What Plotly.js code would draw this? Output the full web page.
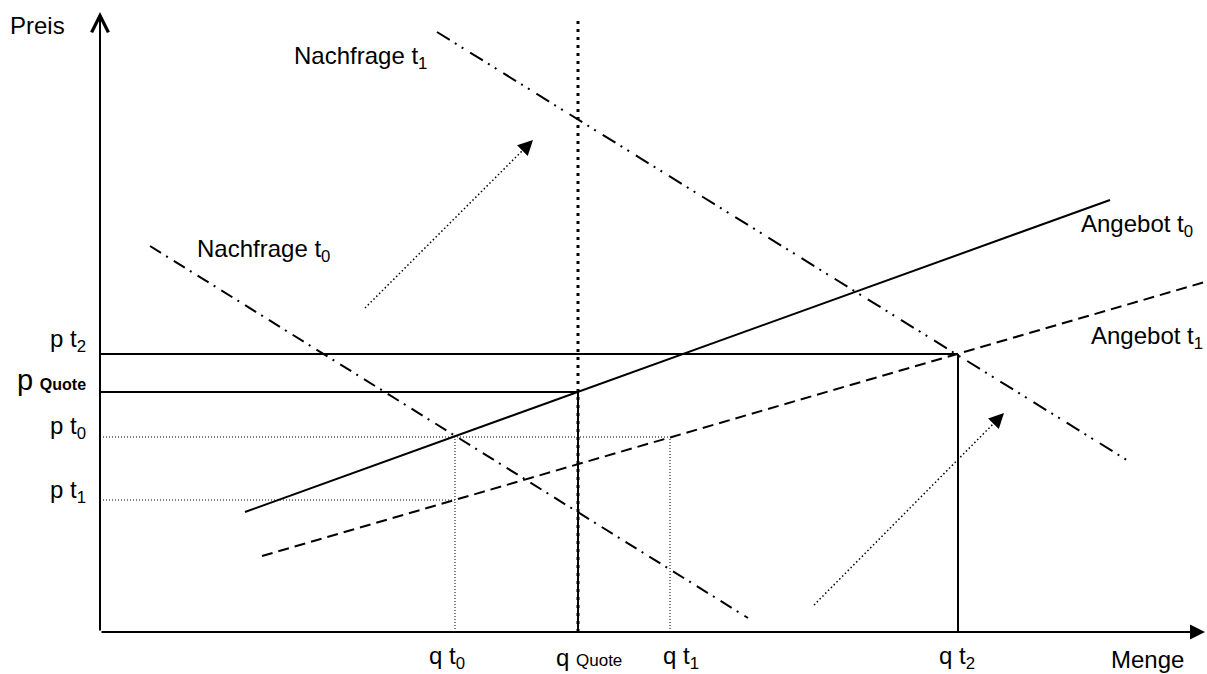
<!DOCTYPE html>
<html>
<head>
<meta charset="utf-8">
<script src="https://cdn.plot.ly/plotly-3.0.1.min.js"></script>
<style>html,body{margin:0;padding:0;background:#fff;}</style>
</head>
<body>
<div id="chart" style="width:1207px;height:674px;"></div>
<script>
// Equilibrium quantities and prices (diagram units, origin at the axes crossing)
const qT0 = 355, qQuote = 478, qT1 = 570, qT2 = 858;
const pT1 = 132, pT0 = 195, pQuote = 240, pT2 = 278;
const quoteTop = 616;

// Curves: endpoints [x0, x1], [y0, y1]
const supply0X = [145, 1010], supply0Y = [120, 432];
const supply1X = [162, 1105], supply1Y = [76, 350];
const demand0X = [50, 648], demand0Y = [386, 14];
const demand1X = [337, 1030], demand1Y = [600, 170];

// Shift arrows: [start, end]
const shiftDemandX = [265, 433], shiftDemandY = [324, 492];
const shiftSupplyX = [714, 904], shiftSupplyY = [27, 219];

// Axis extents
const xAxisEnd = 1105, yAxisEnd = 620;

// Labels
const priceLabels = ['p t<sub>2</sub>', '<span style="font-size:29px">p</span> <span style="font-size:16px"><b>Quote</b></span>', 'p t<sub>0</sub>', 'p t<sub>1</sub>'];
const priceLabelValues = [pT2, pQuote, pT0, pT1];
const priceLabelShift = [14, 12, 10, 9];
const qtyLabels = ['q t<sub>0</sub>', 'q <span style="font-size:17px">Quote</span>', 'q t<sub>1</sub>', 'q t<sub>2</sub>'];
const qtyLabelValues = [qT0, qQuote, qT1, qT2];
const qtyLabelShift = [-8, 11, 11, -1];

const K = '#000';
function seg(x, y, width, dash) {
  return {x: x, y: y, type: 'scatter', mode: 'lines', hoverinfo: 'skip',
          line: {color: K, width: width, dash: dash || 'solid'}, showlegend: false};
}

function arrowPart(xs, ys, back) {
  const dx = xs[1] - xs[0], dy = ys[1] - ys[0];
  const L = Math.sqrt(dx * dx + dy * dy);
  return {bx: xs[1] - dx / L * back, by: ys[1] - dy / L * back};
}
const a1 = arrowPart(shiftDemandX, shiftDemandY, 12);
const a2 = arrowPart(shiftSupplyX, shiftSupplyY, 12);

const traces = [
  // guide lines
  seg([0, qT2], [pT2, pT2], 2),
  seg([qT2, qT2], [0, pT2], 2),
  seg([0, qQuote], [pQuote, pQuote], 2),
  seg([qQuote, qQuote], [0, pQuote], 2),
  seg([0, qT1], [pT0, pT0], 1, '1px,2px'),
  seg([0, qT0], [pT1, pT1], 1, '1px,2px'),
  seg([qT0, qT0], [0, pT0], 1, '1px,2px'),
  seg([qT1, qT1], [0, pT0], 1, '1px,2px'),
  seg([qQuote, qQuote], [0, quoteTop], 3, '3px,5px'),
  // curves
  seg(supply0X, supply0Y, 2),
  seg(supply1X, supply1Y, 2, '11px,6px'),
  seg(demand0X, demand0Y, 2, '13px,6px,2px,7px'),
  seg(demand1X, demand1Y, 2, '15px,6px,2px,6px,2px,8px'),
  // shift arrow shafts
  seg([shiftDemandX[0], a1.bx], [shiftDemandY[0], a1.by], 1.5, '1.5px,2.5px'),
  seg([shiftSupplyX[0], a2.bx], [shiftSupplyY[0], a2.by], 1.5, '1.5px,2.5px')
];

const font = {family: 'Liberation Sans, Arial, sans-serif', size: 24, color: K};
const annotations = [];
function txt(x, y, text, xanchor, extra) {
  annotations.push(Object.assign({x: x, y: y, xref: 'x', yref: 'y', text: text, showarrow: false,
    xanchor: xanchor || 'center', yanchor: 'middle', font: font}, extra || {}));
}
function arrow(x0, y0, x1, y1, head, width, size) {
  annotations.push({x: x1, y: y1, ax: x0, ay: y0, xref: 'x', yref: 'y', axref: 'x', ayref: 'y',
    text: '', showarrow: true, arrowhead: head, arrowwidth: width, arrowsize: size,
    arrowcolor: K, standoff: 0, startstandoff: 0});
}
// axes
arrow(0, 0, 0, yAxisEnd, 5, 2, 1.65);
arrow(0, 0, xAxisEnd, 0, 2, 2, 1.5);
// shift arrow heads
arrow(a1.bx, a1.by, shiftDemandX[1], shiftDemandY[1], 2, 1, 3);
arrow(a2.bx, a2.by, shiftSupplyX[1], shiftSupplyY[1], 2, 1, 3);

priceLabels.forEach((t, i) => txt(-12, priceLabelValues[i] + priceLabelShift[i], t, 'right'));
qtyLabels.forEach((t, i) => txt(qtyLabelValues[i] + qtyLabelShift[i], -25, t, 'center'));
txt(-63, 607, 'Preis');
txt(1047, -27, 'Menge');
txt(260, 575, 'Nachfrage t<sub>1</sub>');
txt(163, 382, 'Nachfrage t<sub>0</sub>');
txt(1037, 407, 'Angebot t<sub>0</sub>');
txt(1047, 295, 'Angebot t<sub>1</sub>');

const layout = {
  width: 1207, height: 674,
  margin: {l: 0, r: 0, t: 0, b: 0, pad: 0},
  paper_bgcolor: '#fff', plot_bgcolor: '#fff',
  xaxis: {range: [-100, 1107], visible: false, fixedrange: true},
  yaxis: {range: [-42, 632], visible: false, fixedrange: true},
  showlegend: false,
  hovermode: false,
  annotations: annotations
};
Plotly.newPlot('chart', traces, layout, {staticPlot: true, displayModeBar: false});
</script>
</body>
</html>
